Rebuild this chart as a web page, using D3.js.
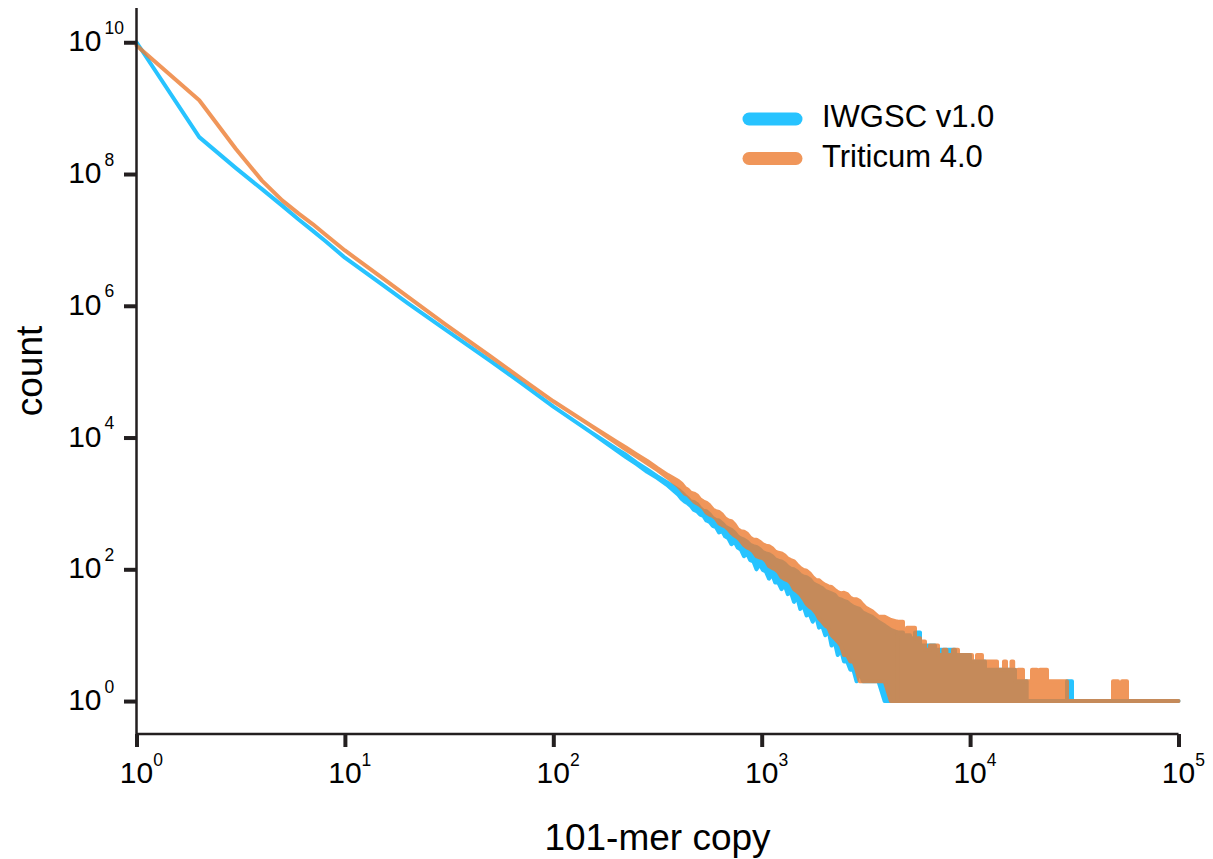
<!DOCTYPE html>
<html><head><meta charset="utf-8">
<script src="https://cdn.jsdelivr.net/npm/d3@7"></script>
<style>
body{margin:0;background:#fff}
svg{display:block}
text{font-family:"Liberation Sans",Arial,Helvetica,sans-serif;fill:#000}
</style>
</head><body>
<svg id="c" width="1213" height="859"></svg>
<script>
// ---------------- data ----------------
const seriesNames = ["IWGSC v1.0", "Triticum 4.0"];
const xTickExps = [0, 1, 2, 3, 4, 5];
const yTickExps = [0, 2, 4, 6, 8, 10];

// smooth part (copy number -> count)
const smoothCopy = [1,2,3,4,5,6,7,8,10,15,20,30,50,70,100,150];
const iwgscSmooth = [1e10,3.63e8,1.23e8,5.89e7,3.31e7,2.04e7,1.38e7,9.77e6,5.37e6,2.14e6,1.10e6,4.47e5,1.45e5,6.76e4,2.95e4,1.23e4];
const triticumSmooth = [8.91e9,1.32e9,2.40e8,7.94e7,3.98e7,2.51e7,1.74e7,1.23e7,6.92e6,2.69e6,1.38e6,5.37e5,1.70e5,7.94e4,3.55e4,1.55e4];

// noisy band (lower / upper envelope of counts)
const bandCopy = [200,224,251,282,316,355,
  398,412,427,442,457,473,490,507,525,543, 562,582,603,624,646,668,692,716,741,767,
  794,822,851,881,912,944,977,1012,1047,1084, 1122,1161,1202,1245,1288,1334,1380,1429,1479,1531,
  1585,1641,1698,1758,1820,1884,1950,2018,2089,2163, 2239,2317,2399,2483,2570,2661,2754,2851,2951,3055,
  3162,3388,3631,3890,4169,4467];
const iwgscBandHi = [6760,5430,4170,3270,2570,2040,
  1620,1480,1320,1200,1070,1050,977,851,776,759, 692,603,562,550,501,447,417,398,363,316,
  295,282,263,234,224,219,204,182,174,170, 158,141,135,132,123,110,102,100,93,83,
  78,76,71,62,58,55,52,47,45,43, 41,36,35,33,32,29,27,26,25,22,
  21,19,16,14,12,11];
const iwgscBandLo = [6460,5010,3940,3020,2430,1860,
  1350,1180,1070,1000,912,794,759,676,646,550, 525,457,437,363,380,316,295,240,263,214,
  200,158,174,138,132,100,120,98,93,72, 85,63,63,50,58,42,45,32,38,25,
  28,20,21,16,20,13,14,10,12,7, 8,5,6,4,4,3,3,2,3,2,
  2,2,2,1,1,1];
const triticumBandHi = [8710,7000,5560,4420,3430,2690,
  2190,2000,1740,1620,1450,1410,1320,1150,1070,1020, 933,813,759,741,676,589,550,537,479,407,
  380,372,347,302,282,282,263,240,229,224, 209,186,178,174,162,145,138,132,117,105,
  98,95,87,76,69,68,62,58,55,54, 49,45,43,44,42,37,35,35,33,29,
  26,23,19,19,17,16];
const triticumBandLo = [8320,6530,5190,4070,3200,2450,
  1820,1620,1410,1350,1200,1070,1000,933,851,724, 676,646,589,501,468,447,407,355,324,302,
  269,234,214,204,186,158,151,148,135,112, 105,100,91,76,71,68,62,50,46,42,
  36,30,27,25,22,18,16,14,13,10, 9,8,7,5,5,4,4,3,2,2,
  2,2,2,2,1,1];

// sparse tail (step levels of the upper envelope, lower envelope = 1)
const iwgscTailCopy = [4467,4764,5148,5440,5750,6787,8466,9991,11790,16424,18690,29170,30830,100000];
const iwgscTailHi = [11,10,9,11,7,6,5,4,3,2,1,2,1,1];
const triticumTailCopy = [4467,4764,4979,5440,5750,6076,6422,7015,7450,7700,8279,8750,10210,10790,11400,13460,14540,14870,15800,16100,16424,16980,17940,19820,20940,21645,23390,29170,48500,51260,53570,56600,100000];
const triticumTailHi = [16,12,13,9,8,6,7,5,6,5,6,5,4,5,4,3,4,3,4,3,2,3,2,3,2,3,2,1,2,1,2,1,1];

// ---------------- chart ----------------
const svg = d3.select("#c");
const axisColor = "#231f20";
const blue = "#27C3FF", orange = "#ED7D31";

const x = d3.scaleLog().domain([1, 1e5]).range([136.5, 1178.5]);
const y = d3.scaleLog().domain([Math.pow(10, -0.5), Math.pow(10, 10.52)]).range([734, 8]);

function buildMain(smoothV, bandLo, bandHi) {
  const pts = smoothCopy.map((c, i) => ({c, lo: smoothV[i], hi: smoothV[i]}));
  bandCopy.forEach((c, i) => pts.push({c, lo: bandLo[i], hi: bandHi[i]}));
  return pts;
}
function buildTail(copy, hi) {
  return copy.map((c, i) => ({c, lo: 1, hi: hi[i]}));
}
const areaLin = d3.area().x(d => x(d.c)).y0(d => y(d.lo)).y1(d => y(d.hi)).curve(d3.curveLinear);
const areaStep = d3.area().x(d => x(d.c)).y0(d => y(d.lo)).y1(d => y(d.hi)).curve(d3.curveStepAfter);

const series = [
  {name: seriesNames[0], color: blue, opacity: 1,
   main: buildMain(iwgscSmooth, iwgscBandLo, iwgscBandHi), tail: buildTail(iwgscTailCopy, iwgscTailHi)},
  {name: seriesNames[1], color: orange, opacity: 0.8,
   main: buildMain(triticumSmooth, triticumBandLo, triticumBandHi), tail: buildTail(triticumTailCopy, triticumTailHi)}
];

series.forEach(s => {
  const g = svg.append("g").attr("opacity", s.opacity);
  [[s.main, areaLin], [s.tail, areaStep]].forEach(([pts, gen]) => {
    g.append("path").attr("d", gen(pts))
      .attr("fill", s.color).attr("stroke", s.color)
      .attr("stroke-width", 4).attr("stroke-linejoin", "round").attr("stroke-linecap", "round");
  });
});

// axes lines
svg.append("path")
  .attr("d", `M${x.range()[0]},${y.range()[1]}V${y.range()[0]}H${x.range()[1]}`)
  .attr("fill", "none").attr("stroke", axisColor).attr("stroke-width", 2.5);

// ticks
const gx = svg.append("g").attr("transform", `translate(0,${y.range()[0]})`)
  .call(d3.axisBottom(x).tickValues(xTickExps.map(e => Math.pow(10, e))).tickSize(13).tickFormat(""));
gx.select(".domain").remove();
gx.selectAll(".tick line").attr("stroke", axisColor).attr("stroke-width", 4);

const gy = svg.append("g").attr("transform", `translate(${x.range()[0]},0)`)
  .call(d3.axisLeft(y).tickValues(yTickExps.map(e => Math.pow(10, e))).tickSize(12.5).tickFormat(""));
gy.select(".domain").remove();
gy.selectAll(".tick line").attr("stroke", axisColor).attr("stroke-width", 4);

// measure "10"
const probe = svg.append("text").attr("font-size", 30).text("10");
const w10 = probe.node().getComputedTextLength();
probe.remove();

function powLabel(px, py, e, supDx) {
  const t = svg.append("text").attr("x", px).attr("y", py).attr("font-size", 30);
  t.append("tspan").text("10");
  t.append("tspan").attr("font-size", 17.5).attr("dy", -17.5).attr("dx", supDx).text(e);
}
xTickExps.forEach(e => powLabel(x(Math.pow(10, e)) - w10 / 2, 783, e, 0));
yTickExps.forEach(e => powLabel(101.5 - w10, y(Math.pow(10, e)) + 9, e, 3));

// axis titles
svg.append("text").attr("x", (x.range()[0] + x.range()[1]) / 2).attr("y", 850)
  .attr("text-anchor", "middle").attr("font-size", 37).text("101-mer copy");
svg.append("text").attr("transform", `translate(42,${(y.range()[0] + y.range()[1]) / 2}) rotate(-90)`)
  .attr("text-anchor", "middle").attr("font-size", 37).text("count");

// legend
const legY = [119, 158.5];
series.forEach((s, i) => {
  svg.append("line").attr("x1", 749).attr("x2", 796).attr("y1", legY[i]).attr("y2", legY[i])
    .attr("stroke", s.color).attr("stroke-width", 13).attr("stroke-linecap", "round").attr("opacity", s.opacity);
  svg.append("text").attr("x", 822).attr("y", legY[i] + 8).attr("font-size", 31).text(s.name);
});
</script>
</body></html>
